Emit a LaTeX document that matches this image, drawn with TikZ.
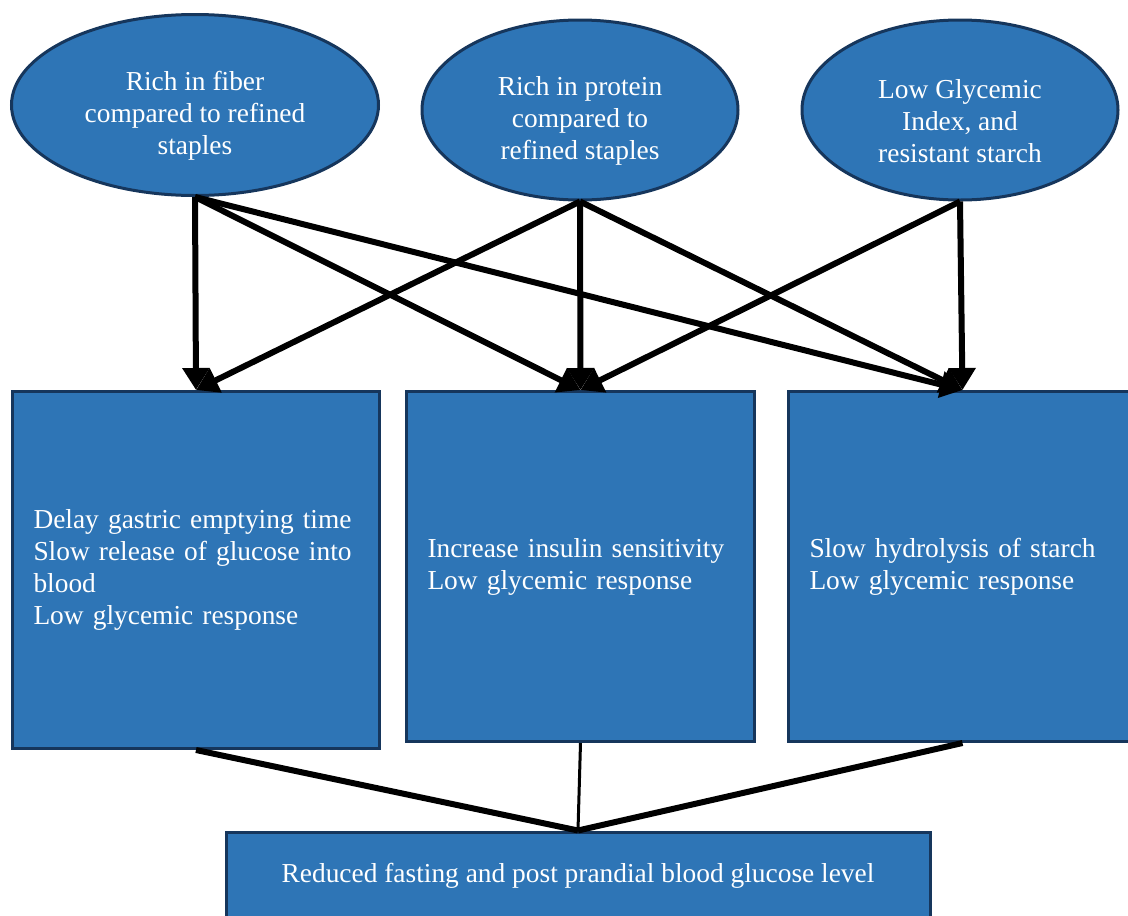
\documentclass[tikz,border=0pt]{standalone}
\usepackage{fontspec}
\setmainfont{Liberation Serif}
\usetikzlibrary{shapes.geometric,arrows.meta}
\definecolor{boxblue}{RGB}{46,117,182}
\definecolor{boxedge}{RGB}{22,54,92}
\begin{document}
\begin{tikzpicture}[x=1pt, y=-1pt, font=\fontsize{27.4}{32}\selectfont,
    factor/.style={ellipse, draw=boxedge, line width=3pt, fill=boxblue, inner sep=0pt},
    caption/.style={text=white, align=center, yshift=-11pt},
    effect/.style={rectangle, draw=boxedge, line width=3pt, fill=boxblue, text=white,
      align=left, inner sep=21pt, anchor=north west},
    link/.style={line width=6pt, -{Triangle[width=26pt,length=22pt]}},
    merge/.style={line width=6pt}]
  \useasboundingbox (0,0) rectangle (1128,916);

  % causes
  \node[factor, minimum width=367pt, minimum height=181pt] (fiber) at (195,105) {};
  \node[caption] (fibertext) at (fiber.center) {Rich in fiber\\compared to refined\\staples};
  \node[factor, minimum width=316pt, minimum height=180pt] (protein) at (580,110) {};
  \node[caption] (proteintext) at (protein.center) {Rich in protein\\compared to\\refined staples};
  \node[factor, minimum width=316pt, minimum height=180pt] (gi) at (960,110) {};
  \node[caption] (gitext) at (gi.center) {Low Glycemic\\Index, and\\resistant starch};

  % effects
  \node[effect, minimum height=357pt, text width=325pt] (gastric) at (11,390)
    {Delay gastric emptying time\\Slow release of glucose into\\blood\\Low glycemic response};
  \node[effect, minimum height=350pt, text width=306pt] (insulin) at (405,390)
    {Increase insulin sensitivity\\Low glycemic response};
  \node[effect, minimum height=350pt, text width=306pt] (starch) at (787,390)
    {Slow hydrolysis of starch\\Low glycemic response};

  % outcome
  \node[rectangle, draw=boxedge, line width=3pt, fill=boxblue, text=white,
    minimum width=704pt, minimum height=88pt] (glucose) at (578,876)
    {Reduced fasting and post prandial blood glucose level};

  \draw[link] (fiber.south) -- (gastric.north);
  \draw[link] (fiber.south) -- (insulin.north);
  \draw[link] (fiber.south) -- (starch.north);
  \draw[link] (protein.south) -- (gastric.north);
  \draw[link] (protein.south) -- (insulin.north);
  \draw[link] (protein.south) -- (starch.north);
  \draw[link] (gi.south) -- (insulin.north);
  \draw[link] (gi.south) -- (starch.north);

  \draw[merge] (gastric.south) -- (glucose.north);
  \draw[merge, line width=3pt] (insulin.south) -- (glucose.north);
  \draw[merge] (starch.south) -- (glucose.north);
\end{tikzpicture}
\end{document}
